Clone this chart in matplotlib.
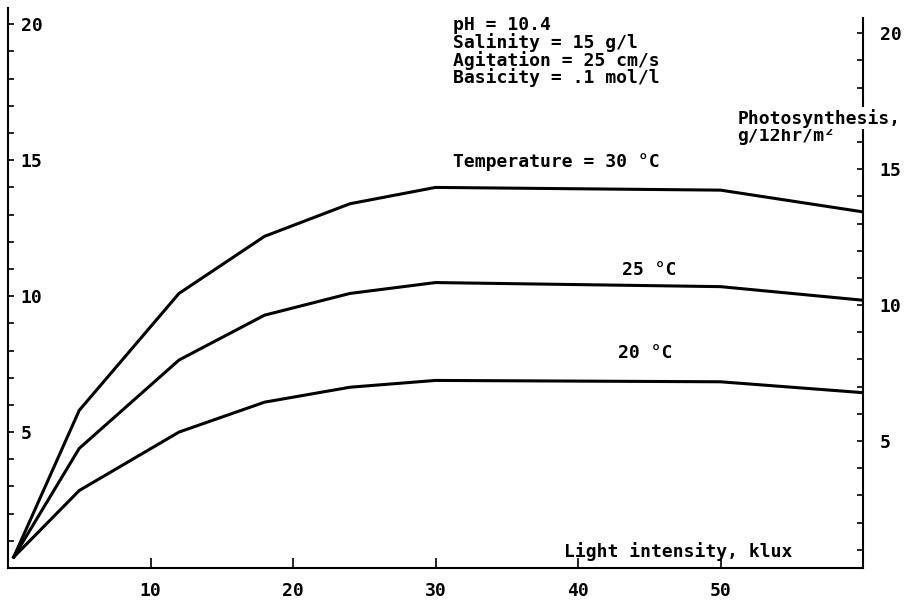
"""Photosynthesis vs light intensity at three temperatures (scanned plot redraw)."""

import matplotlib
matplotlib.use("Agg")
import matplotlib.pyplot as plt

# ----------------------------------------------------------------------
# Data
# ----------------------------------------------------------------------
light_klux = [0.4, 5, 12, 18, 24, 30, 50, 60]
photo_30c = [0.4, 5.8, 10.1, 12.2, 13.4, 14.0, 13.9, 13.1]
photo_25c = [0.4, 4.4, 7.65, 9.3, 10.1, 10.5, 10.35, 9.85]
photo_20c = [0.4, 2.85, 5.0, 6.1, 6.65, 6.9, 6.85, 6.45]

x_ticks = [10, 20, 30, 40, 50]
y_ticks = list(range(1, 21))
y_labelled = [5, 10, 15, 20]

conditions = [
    "pH = 10.4",
    "Salinity = 15 g/l",
    "Agitation = 25 cm/s",
    "Basicity = .1 mol/l",
]

FONT = dict(family="DejaVu Sans Mono", weight="bold", size=13)
LW = 2.2
R_OFF = 0.33  # right-hand scale sits a little lower in the scan


def fmt(v):
    return str(v) if v in y_labelled else ""


fig = plt.figure(figsize=(9.1, 6.02), dpi=100)
ax = fig.add_axes([8 / 910, 34 / 602, 855 / 910, 560 / 602])
ax.set_xlim(0, 60)
ax.set_ylim(0, 20.6)

for ys in (photo_30c, photo_25c, photo_20c):
    ax.plot(light_klux, ys, color="black", lw=LW, solid_joinstyle="round")

for s in ("top", "right", "left"):
    ax.spines[s].set_visible(False)
ax.spines["bottom"].set_linewidth(1.5)
ax.set_yticks([])
ax.set_xticks(x_ticks)
ax.set_xticklabels([str(t) for t in x_ticks], fontdict=FONT)
ax.tick_params(axis="x", direction="in", length=7, width=1.2, pad=10)

# left axis: line on the left, labels inside the plot
axl = ax.twinx()
axl.set_ylim(ax.get_ylim())
for s in ("top", "left", "bottom"):
    axl.spines[s].set_visible(False)
axl.spines["right"].set_position(("axes", 0))
axl.spines["right"].set_linewidth(1.5)
axl.set_yticks(y_ticks)
axl.set_yticklabels([fmt(v) for v in y_ticks], fontdict=FONT)
axl.tick_params(axis="y", direction="out", length=4, width=1.2, pad=5)

# right axis
axr = ax.twinx()
axr.set_ylim(R_OFF, 20.6 + R_OFF)
for s in ("top", "left", "bottom"):
    axr.spines[s].set_visible(False)
axr.spines["right"].set_linewidth(1.5)
axr.spines["right"].set_bounds(R_OFF, 20.55)
axr.set_yticks(y_ticks)
axr.set_yticklabels([fmt(v) for v in y_ticks], fontdict=FONT)
axr.tick_params(axis="y", direction="in", length=4, width=1.2, pad=12)

# annotations
for i, line in enumerate(conditions):
    ax.text(31.2, 19.96 - i * 0.64, line, va="center", ha="left", **FONT)
ax.text(31.2, 14.93, "Temperature = 30 °C", va="center", ha="left", **FONT)
ax.text(43.1, 10.96, "25 °C", va="center", ha="left", **FONT)
ax.text(42.8, 7.9, "20 °C", va="center", ha="left", **FONT)
ax.text(39.0, 0.62, "Light intensity, klux", va="center", ha="left", **FONT)

axr.text(51.2, 16.87, "Photosynthesis,", va="center", ha="left", zorder=10,
         bbox=dict(facecolor="white", edgecolor="none", pad=1), **FONT)
axr.text(51.2, 16.21, "g/12hr/m²", va="center", ha="left", **FONT)

fig.savefig("out.png", dpi=100)
